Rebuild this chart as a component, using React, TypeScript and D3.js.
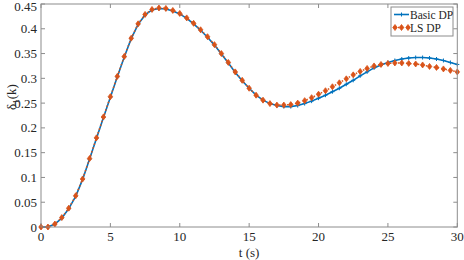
import React from "react";
import * as d3 from "d3";

const times: number[] = d3.range(0, 30.01, 0.5).map((v) => +v.toFixed(1));

const basicDP: number[] = [
  0, 0.0, 0.006, 0.018, 0.037, 0.062, 0.096, 0.137, 0.179, 0.221,
  0.262, 0.303, 0.343, 0.38, 0.409, 0.428, 0.438, 0.441, 0.44, 0.436,
  0.43, 0.421, 0.41, 0.397, 0.383, 0.367, 0.349, 0.331, 0.312, 0.295,
  0.28, 0.266, 0.256, 0.249, 0.245, 0.243, 0.243, 0.245, 0.249, 0.254,
  0.26, 0.266, 0.273, 0.28, 0.288, 0.296, 0.305, 0.313, 0.321, 0.327,
  0.332, 0.336, 0.339, 0.341, 0.342, 0.342, 0.341, 0.339, 0.336, 0.332,
  0.328,
];

const lsDP: number[] = [
  0, 0.0, 0.006, 0.019, 0.038, 0.063, 0.097, 0.138, 0.18, 0.222,
  0.263, 0.304, 0.344, 0.381, 0.41, 0.429, 0.439, 0.442, 0.441, 0.437,
  0.431, 0.422, 0.411, 0.398, 0.384, 0.368, 0.35, 0.332, 0.313, 0.296,
  0.28, 0.266, 0.256, 0.249, 0.246, 0.246, 0.247, 0.25, 0.255, 0.261,
  0.268, 0.275, 0.283, 0.291, 0.299, 0.307, 0.314, 0.32, 0.325, 0.328,
  0.33, 0.331, 0.331, 0.33, 0.329, 0.327, 0.324, 0.322, 0.319, 0.316,
  0.313,
];

const xTicks: number[] = [0, 5, 10, 15, 20, 25, 30];
const yTicks: number[] = [0, 0.05, 0.1, 0.15, 0.2, 0.25, 0.3, 0.35, 0.4, 0.45];
const seriesNames: string[] = ["Basic DP", "LS DP"];

const W = 464;
const H = 260;
const m = { left: 41, right: 6, top: 4, bottom: 33 };
const BLUE = "#0072BD";
const ORANGE = "#D95319";
const AXIS = "#8c8c8c";
const TEXT = "#262626";
const FONT = "'Liberation Serif', 'Times New Roman', serif";

export default function App() {
  const x = d3.scaleLinear().domain([0, 30]).range([m.left, W - m.right - 0.7]);
  const y = d3.scaleLinear().domain([0, 0.45]).range([H - m.bottom, m.top]);
  const line = d3
    .line<number>()
    .x((_, i) => x(times[i]))
    .y((d) => y(d));
  const x0 = x(0), x1 = x(30), y0 = y(0), y1 = y(0.45);
  const tl = 4;
  const diamond = (cx: number, cy: number, r: number) =>
    `M${cx},${cy - r}L${cx + r * 0.75},${cy}L${cx},${cy + r}L${cx - r * 0.75},${cy}Z`;
  const plus = (cx: number, cy: number, r: number) =>
    `M${cx - r},${cy}H${cx + r}M${cx},${cy - r}V${cy + r}`;

  const lx = 391, ly = 7, lw = 62, lh = 29;

  return (
    <svg width={W} height={H} style={{ position: "absolute", left: 0, top: 0, background: "#fff" }}>
      <rect x={0} y={0} width={W} height={H} fill="#fff" />
      <g fontFamily={FONT} fontSize={13} fill={TEXT}>
        {xTicks.map((t) => (
          <g key={"x" + t}>
            <line x1={x(t)} x2={x(t)} y1={y0} y2={y0 - tl} stroke={AXIS} />
            <line x1={x(t)} x2={x(t)} y1={y1} y2={y1 + tl} stroke={AXIS} />
            <text x={x(t)} y={y0 + 14} textAnchor="middle">{t}</text>
          </g>
        ))}
        {yTicks.map((t) => (
          <g key={"y" + t}>
            <line x1={x0} x2={x0 + tl} y1={y(t)} y2={y(t)} stroke={AXIS} />
            <line x1={x1} x2={x1 - tl} y1={y(t)} y2={y(t)} stroke={AXIS} />
            <text x={x0 - 4} y={Math.max(y(t) + 4.5, 10.5)} textAnchor="end">{t}</text>
          </g>
        ))}
        <text x={(x0 + x1) / 2} y={H - 3} textAnchor="middle">t (s)</text>
        <text transform={`translate(16,${97}) rotate(-90)`} textAnchor="middle">
          δ<tspan dy={3} fontSize={9}>1</tspan><tspan dy={-3}>(k)</tspan>
        </text>
      </g>

      <path d={line(basicDP) || ""} fill="none" stroke={BLUE} strokeWidth={1.6} />
      {basicDP.map((v, i) => (
        <path key={"b" + i} d={plus(x(times[i]), y(v), 2)} stroke={BLUE} strokeWidth={1} fill="none" />
      ))}
      <path d={line(lsDP) || ""} fill="none" stroke={ORANGE} strokeWidth={1.5} strokeDasharray="1.5,2.5" />
      {lsDP.map((v, i) => (
        <path key={"o" + i} d={diamond(x(times[i]), y(v), 3)} fill={ORANGE} stroke={ORANGE} strokeWidth={0.8} />
      ))}

      <rect x={x0} y={y1} width={x1 - x0} height={y0 - y1} fill="none" stroke={AXIS} strokeWidth={1} />

      <g>
        <rect x={lx} y={ly} width={lw} height={lh} fill="#fff" stroke={AXIS} strokeWidth={1} />
        <line x1={lx + 3} x2={lx + 18} y1={ly + 7.5} y2={ly + 7.5} stroke={BLUE} strokeWidth={1.6} />
        <path d={plus(lx + 10.5, ly + 7.5, 2)} stroke={BLUE} strokeWidth={1} />
        <line x1={lx + 3} x2={lx + 18} y1={ly + 20.5} y2={ly + 20.5} stroke={ORANGE} strokeWidth={1.5} strokeDasharray="1.5,2.5" />
        {[lx + 4, lx + 10.5, lx + 17].map((cx, i) => (
          <path key={"ld" + i} d={diamond(cx, ly + 20.5, 3)} fill={ORANGE} stroke={ORANGE} strokeWidth={0.8} />
        ))}
        <text x={lx + 19} y={ly + 11.5} fontFamily={FONT} fontSize={11.5} fill={TEXT}>{seriesNames[0]}</text>
        <text x={lx + 19} y={ly + 24.5} fontFamily={FONT} fontSize={11.5} fill={TEXT}>{seriesNames[1]}</text>
      </g>
    </svg>
  );
}
